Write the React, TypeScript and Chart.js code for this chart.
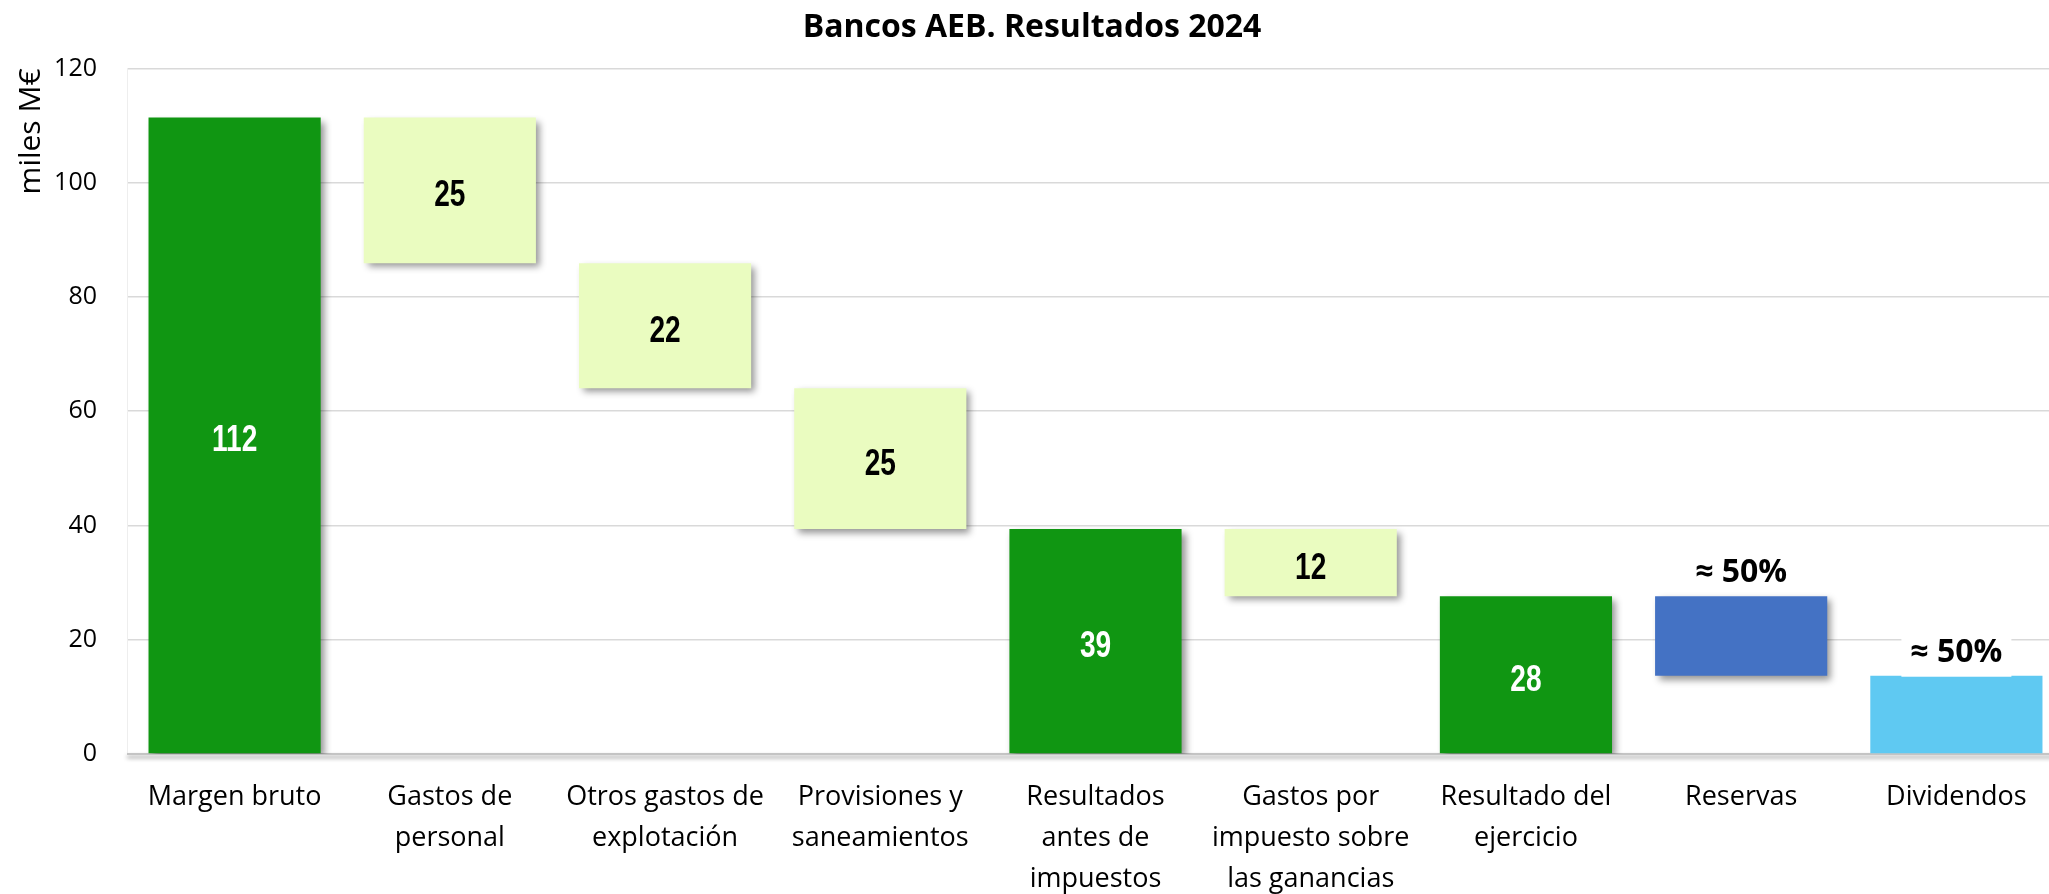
import { useEffect, useRef } from "react";
import { Chart, registerables } from "chart.js";

Chart.register(...registerables);

const chartTitle = "Bancos AEB. Resultados 2024";
const yAxisTitle = "miles M€";

const categories: string[][] = [
  ["Margen bruto"],
  ["Gastos de", "personal"],
  ["Otros gastos de", "explotación"],
  ["Provisiones y", "saneamientos"],
  ["Resultados", "antes de", "impuestos"],
  ["Gastos por", "impuesto sobre", "las ganancias"],
  ["Resultado del", "ejercicio"],
  ["Reservas"],
  ["Dividendos"],
];

const barStart = [0, 85.9, 64.0, 39.4, 0, 27.6, 0, 13.7, 0];
const barEnd = [111.4, 111.4, 85.9, 64.0, 39.4, 39.4, 27.6, 27.6, 13.7];
const barKind = ["total", "gasto", "gasto", "gasto", "total", "gasto", "total", "reservas", "dividendos"];
const valueLabels = ["112", "25", "22", "25", "39", "12", "28", "≈ 50%", "≈ 50%"];

const yMin = 0;
const yMax = 120;
const yStep = 20;

const kindStyles: Record<string, { label: string; color: string; text: string; shadow: boolean; above: boolean; box: boolean }> = {
  total: { label: "Totales", color: "#109612", text: "#ffffff", shadow: true, above: false, box: false },
  gasto: { label: "Gastos", color: "#EAFCC0", text: "#000000", shadow: true, above: false, box: false },
  reservas: { label: "Reservas", color: "#4472C4", text: "#000000", shadow: true, above: true, box: false },
  dividendos: { label: "Dividendos", color: "#5FC9F2", text: "#000000", shadow: false, above: true, box: true },
};
const kindOrder = ["total", "gasto", "reservas", "dividendos"];

const FONT = '"Open Sans", "Noto Sans", sans-serif';
const NUM_FONT = '"Liberation Sans", Arial, sans-serif';

export default function App() {
  const canvasRef = useRef<HTMLCanvasElement | null>(null);

  useEffect(() => {
    const canvas = canvasRef.current;
    if (!canvas) return;

    const datasets = kindOrder.map((k) => ({
      label: kindStyles[k].label,
      data: barKind.map((kind, i) => (kind === k ? [barStart[i], barEnd[i]] : null)),
      backgroundColor: kindStyles[k].color,
      borderWidth: 0,
      grouped: false,
      barPercentage: 0.8,
      categoryPercentage: 1.0,
    }));

    const shadowPlugin = {
      id: "barShadow",
      beforeDatasetsDraw(chart: any) {
        const { ctx, chartArea } = chart;
        const y0 = chart.scales.y.getPixelForValue(0);
        ctx.save();
        ctx.shadowColor = "rgba(0,0,0,0.45)";
        ctx.shadowBlur = 4;
        ctx.shadowOffsetY = 3;
        ctx.strokeStyle = "#c4c4c4";
        ctx.lineWidth = 2;
        ctx.beginPath();
        ctx.moveTo(chartArea.left, y0);
        ctx.lineTo(chartArea.right, y0);
        ctx.stroke();
        ctx.restore();
      },
      beforeDatasetDraw(chart: any, args: any) {
        const k = kindOrder[args.index];
        chart.ctx.save();
        if (kindStyles[k].shadow) {
          chart.ctx.shadowColor = "rgba(0,0,0,0.42)";
          chart.ctx.shadowBlur = 7;
          chart.ctx.shadowOffsetX = 4;
          chart.ctx.shadowOffsetY = 4;
        }
      },
      afterDatasetDraw(chart: any) {
        chart.ctx.restore();
      },
    };

    const labelPlugin = {
      id: "valueLabels",
      afterDatasetsDraw(chart: any) {
        const ctx = chart.ctx;
        barKind.forEach((k, i) => {
          const di = kindOrder.indexOf(k);
          const el = chart.getDatasetMeta(di).data[i];
          if (!el) return;
          const p = el.getProps(["x", "y", "base"], true);
          const top = Math.min(p.y, p.base);
          const bottom = Math.max(p.y, p.base);
          const st = kindStyles[k];
          ctx.save();
          ctx.textAlign = "center";
          ctx.textBaseline = "alphabetic";
          if (!st.above) {
            const size = 36;
            ctx.font = `bold ${size}px ${NUM_FONT}`;
            ctx.fillStyle = st.text;
            ctx.translate(p.x, (top + bottom) / 2 + size * 0.36 + 3);
            ctx.scale(0.78, 1);
            ctx.fillText(valueLabels[i], 0, 0);
          } else {
            ctx.font = `bold 32px ${FONT}`;
            const cy = top - 25;
            if (st.box) {
              const w = ctx.measureText(valueLabels[i]).width + 18;
              ctx.fillStyle = "#ffffff";
              ctx.fillRect(p.x - w / 2, cy - 26, w, 26 + 25 + 1);
            }
            ctx.fillStyle = "#000000";
            ctx.fillText(valueLabels[i], p.x, cy + 11);
          }
          ctx.restore();
        });
      },
    };

    const chart = new Chart(canvas, {
      type: "bar",
      data: { labels: categories, datasets },
      plugins: [shadowPlugin, labelPlugin],
      options: {
        animation: false,
        responsive: false,
        layout: { padding: 0 },
        plugins: {
          legend: { display: false },
          tooltip: { enabled: false },
          title: {
            display: true,
            text: chartTitle,
            color: "#000000",
            font: { family: FONT, size: 32, weight: "bold" },
            padding: { top: 9, bottom: 21 },
          },
        },
        scales: {
          x: {
            offset: true,
            grid: { display: false, drawTicks: false },
            border: { display: false },
            ticks: {
              color: "#000000",
              font: { family: FONT, size: 27, lineHeight: 1.52 },
              padding: 23,
              maxRotation: 0,
              autoSkip: false,
            },
            afterFit(scale: any) {
              scale.height = 140;
            },
          },
          y: {
            min: yMin,
            max: yMax,
            ticks: {
              stepSize: yStep,
              color: "#000000",
              font: { family: FONT, size: 25 },
              padding: 30,
            },
            grid: { color: "#d9d9d9", lineWidth: 1.5, drawTicks: false },
            border: { display: true, color: "#eeeeee", width: 1 },
            title: {
              display: true,
              text: yAxisTitle,
              align: "end",
              color: "#000000",
              font: { family: FONT, size: 30 },
              padding: { top: 13, bottom: 0 },
            },
            afterFit(scale: any) {
              scale.width = 127;
            },
          },
        },
      } as any,
    });

    return () => chart.destroy();
  }, []);

  return (
    <div style={{ position: "fixed", left: 0, top: 0, width: 2049, height: 894, overflow: "hidden", background: "#ffffff" }}>
      <canvas ref={canvasRef} width={2064} height={894} style={{ display: "block" }} />
    </div>
  );
}
